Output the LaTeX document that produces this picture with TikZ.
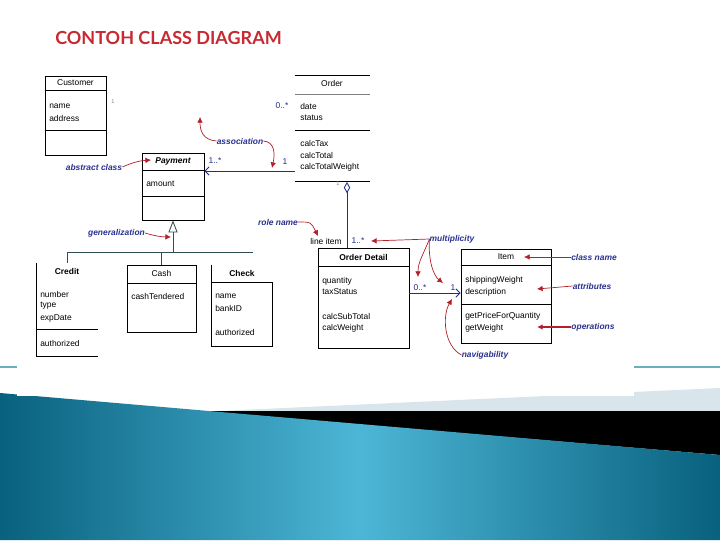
\documentclass[tikz,border=0pt]{standalone}
\usepackage{fontspec}
\setmainfont{Liberation Sans}
\newfontfamily\titlefont{Lato}
\usetikzlibrary{positioning,arrows.meta,fit}
\definecolor{titleRed}{HTML}{C62A32}
\definecolor{cRed}{HTML}{B3202B}
\definecolor{nNavy}{HTML}{2A3190}
\definecolor{uBlue}{HTML}{1F2E8C}
\definecolor{gLine}{HTML}{2F4F4F}
\definecolor{tealLine}{HTML}{6AAFC0}
\definecolor{tealDark}{HTML}{08617E}
\definecolor{tealLight}{HTML}{4DB6D6}
\definecolor{bandPale}{HTML}{D8E6EC}
\tikzset{
  clsbox/.style={draw=black, line width=0.5pt, inner sep=0pt},
  clsframe/.style={inner sep=0pt},
  clsname/.style={font=\fontsize{6}{7}\selectfont, inner sep=0pt},
  member/.style={font=\fontsize{6}{7}\selectfont, anchor=west, inner sep=0pt},
  mult/.style={font=\fontsize{6}{7}\selectfont, text=uBlue, inner sep=0pt},
  note/.style={font=\fontsize{6}{7}\selectfont\bfseries\itshape, text=nNavy, inner sep=0pt},
  callout/.style={-{Latex[length=4pt,width=4pt]}, draw=cRed, line width=0.5pt},
  assoc/.style={draw=uBlue, line width=0.6pt},
  genline/.style={draw=gLine, line width=0.6pt},
  seprule/.style={draw=black, line width=0.5pt},
}

\begin{document}
\begin{tikzpicture}[x=0.025cm, y=-0.025cm]
  \useasboundingbox (0,0) rectangle (720,540);
  % slide background
  \fill[white] (0,0) rectangle (720,540);
  \fill[bandPale] (197,412) -- (720,388) -- (720,412) -- cycle;
  \draw[tealLine, line width=0.8pt] (0,367) -- (720,367);
  \fill[black] (197,411) -- (720,411) -- (720,455) -- cycle;
  \shade[left color=tealDark, right color=tealDark, middle color=tealLight]
    (0,393) -- (720,455) -- (720,540) -- (0,540) -- cycle;
  \fill[white] (17,62) rectangle (634,396);
  \node[font=\titlefont\bfseries\fontsize{12.8}{15}\selectfont, text=titleRed, anchor=west, inner sep=0pt] (title) at (55,38) {CONTOH CLASS DIAGRAM};

  % Customer
  \node[clsbox, fit={(45,76) (106,155)}] (customer) {};
  \draw[seprule] (customer.west |- 0,90) -- (customer.east |- 0,90);
  \draw[seprule] (customer.west |- 0,130) -- (customer.east |- 0,130);
  \node[clsname] (customerName) at (75.5,83) {Customer};
  \node[member] (custA1) at (49,106) {name};
  \node[member] (custA2) at (49,118) {address};
  \node[mult, text=gray, font=\fontsize{4}{5}\selectfont] (multCust) at (113,102) {1};

  % Order (only its rules show)
  \node[clsframe, fit={(295,76) (370,181)}] (order) {};
  \draw[seprule] (order.north west) -- (order.north east);
  \draw[seprule, draw=gray] (order.west |- 0,94) -- (order.east |- 0,94);
  \draw[seprule] (order.west |- 0,130) -- (order.east |- 0,130);
  \draw[seprule] (order.south west) -- (order.south east);
  \node[clsname] (orderName) at (332,83) {Order};
  \node[member] (ordA1) at (300,106) {date};
  \node[member] (ordA2) at (300,118) {status};
  \node[member] (ordO1) at (300,143) {calcTax};
  \node[member] (ordO2) at (300,155) {calcTotal};
  \node[member] (ordO3) at (300,167) {calcTotalWeight};
  \node[mult] (multOrdCust) at (282,106) {0..*};

  % Payment
  \node[clsbox, fit={(142,153) (204,220)}] (payment) {};
  \draw[seprule] (payment.west |- 0,170) -- (payment.east |- 0,170);
  \draw[seprule] (payment.west |- 0,196) -- (payment.east |- 0,196);
  \node[clsname, font=\fontsize{6}{7}\selectfont\bfseries\itshape] (paymentName) at (173,161) {Payment};
  \node[member] (payA1) at (146,184) {amount};
  \node[mult] (multPay) at (215,161) {1..*};
  \node[mult] (multOrdPay) at (285,162) {1};
  \coordinate (ordPay) at (295,171);
  \draw[assoc, -{Straight Barb[length=3pt,width=6pt]}] (ordPay) -- (payment.east |- ordPay);

  % Credit, Cash, Check
  \node[clsframe, fit={(37,263) (98,356)}] (credit) {};
  \draw[seprule] (credit.north west) -- (credit.south west) -- (credit.south east);
  \draw[seprule] (credit.west |- 0,329) -- (credit.east |- 0,329);
  \node[clsname, font=\fontsize{6}{7}\selectfont\bfseries] (creditName) at (67,271) {Credit};
  \node[member] (crA1) at (40,294) {number};
  \node[member] (crA2) at (40,306) {type};
  \node[member] (crA3) at (40,318) {expDate};
  \node[member] (crO1) at (40,343) {authorized};

  \node[clsbox, fit={(127,265) (196,332)}] (cash) {};
  \draw[seprule] (cash.west |- 0,283) -- (cash.east |- 0,283);
  \node[clsname] (cashName) at (161.5,273) {Cash};
  \node[member] (caA1) at (131,296) {cashTendered};

  \node[clsframe, fit={(212,265) (272,346)}] (check) {};
  \draw[seprule] (check.north west) -- (check.south west) -- (check.south east) -- (check.east |- 0,282) -- (check.west |- 0,282);
  \node[clsname, font=\fontsize{6}{7}\selectfont\bfseries] (checkName) at (242,273) {Check};
  \node[member] (chA1) at (215,296) {name};
  \node[member] (chA2) at (215,308) {bankID};
  \node[member] (chO1) at (215,332) {authorized};

  % generalization
  \coordinate (genJoin) at (173,252);
  \coordinate (genEnd) at (253,252);
  \draw[genline, -{Triangle[open,length=0.3cm,width=0.225cm]}] (genJoin) -- (payment.south);
  \draw[genline] (genEnd) -| (credit.north);
  \draw[genline] (genJoin -| cash.north) -- (cash.north);

  % Order Detail
  \node[clsbox, fit={(318,248) (409,348)}] (orderDetail) {};
  \draw[seprule] (orderDetail.west |- 0,266) -- (orderDetail.east |- 0,266);
  \node[clsname, font=\fontsize{6}{7}\selectfont\bfseries] (orderDetailName) at (363.5,257) {Order Detail};
  \node[member] (odA1) at (322,281) {quantity};
  \node[member] (odA2) at (322,292) {taxStatus};
  \node[member] (odO1) at (322,316) {calcSubTotal};
  \node[member] (odO2) at (322,328) {calcWeight};
  \node[mult, text=black] (roleLine) at (326,241) {line item};
  \node[mult] (multOd) at (358,241) {1..*};
  \coordinate (ordAgg) at (347,182);
  \draw[assoc, {Diamond[open,length=0.28cm,width=0.16cm]}-] (ordAgg) -- (orderDetail.north -| ordAgg);
  \node[mult, text=gray, font=\fontsize{4}{5}\selectfont] (multAgg) at (338,184) {1};

  % Item
  \node[clsbox, fit={(461,249) (551,343)}] (item) {};
  \draw[seprule] (item.west |- 0,265) -- (item.east |- 0,265);
  \draw[seprule] (item.west |- 0,304) -- (item.east |- 0,304);
  \node[clsname] (itemName) at (506,257) {Item};
  \node[member] (itA1) at (465,280) {shippingWeight};
  \node[member] (itA2) at (465,292) {description};
  \node[member] (itO1) at (465,316) {getPriceForQuantity};
  \node[member] (itO2) at (465,328) {getWeight};
  \coordinate (odItem) at (409,293);
  \draw[assoc, -{Straight Barb[length=3pt,width=6pt]}] (odItem) -- (item.west |- odItem);
  \node[mult] (multOdItem) at (420,288) {0..*};
  \node[mult] (multItem) at (453,288) {1};

  % callouts
  \node[note] (noteAbstract) at (94,167) {abstract class};
  \coordinate (tipAbstract) at (151,160);
  \draw[callout] (noteAbstract.east) to[bend left=10] (tipAbstract);

  \node[note] (noteAssoc) at (240,141) {association};
  \coordinate (tipAssocA) at (200,117);
  \coordinate (tipAssocB) at (272,168);
  \draw[callout] (noteAssoc.west) .. controls (203,140) and (200,131) .. (tipAssocA);
  \draw[callout] (noteAssoc.east) .. controls (275,142) and (275,154) .. (tipAssocB);

  \node[note] (noteGen) at (116.5,233) {generalization};
  \coordinate (tipGen) at (171,237);
  \draw[callout] (noteGen.east) to[bend right=8] (tipGen);

  \node[note] (noteRole) at (278,222) {role name};
  \coordinate (tipRole) at (318,236);
  \draw[callout] (noteRole.east) .. controls (311,222) .. (tipRole);

  \node[note] (noteMult) at (452,239) {multiplicity};
  \coordinate (tipMultA) at (371,241);
  \coordinate (tipMultB) at (418,277);
  \coordinate (tipMultC) at (443,283);
  \draw[callout] (noteMult.west) -- (tipMultA);
  \draw[callout] (noteMult.west) .. controls (423,255) and (418,262) .. (tipMultB);
  \draw[callout] (noteMult.west) .. controls (428,262) and (434,276) .. (tipMultC);

  \node[note] (noteNav) at (485,355) {navigability};
  \coordinate (tipNav) at (452,299);
  \draw[callout] (noteNav.west) .. controls (444,346) and (442,316) .. (tipNav);

  \node[note] (noteClsName) at (594,257) {class name};
  \draw[callout] (noteClsName.west) -- (524,257);
  \node[note] (noteAttr) at (592,286) {attributes};
  \draw[callout] (noteAttr.west) -- (537,289);
  \node[note] (noteOper) at (593,327) {operations};
  \draw[callout, line width=0.8pt] (noteOper.west) -- (537,327);
\end{tikzpicture}
\end{document}
